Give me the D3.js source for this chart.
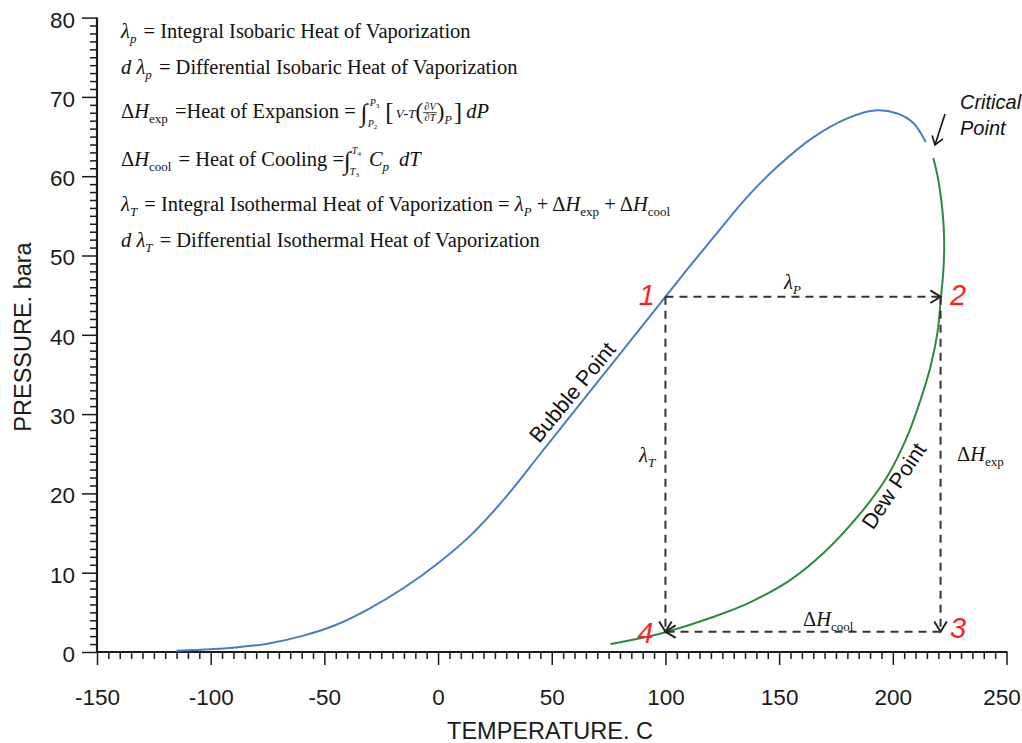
<!DOCTYPE html>
<html><head><meta charset="utf-8">
<script src="https://cdn.jsdelivr.net/npm/d3@7"></script>
<style>body{margin:0;background:#fff} svg{display:block} text{white-space:pre}</style>
</head><body><svg id="c" width="1022" height="743"></svg>
<script>
// ---------------- data ----------------
const bubbleT = [-115, -100, -90, -75, -60, -45, -30, -15, 0, 15, 30, 45, 60, 75, 90, 100, 110, 122, 136, 150, 165, 180, 192, 202, 209, 214.5];
const bubbleP = [0.15, 0.35, 0.55, 1.05, 2.0, 3.4, 5.5, 8.1, 11.2, 14.9, 19.6, 25.0, 30.4, 35.8, 41.2, 44.8, 48.4, 52.6, 57.4, 61.4, 64.9, 67.3, 68.3, 67.9, 66.7, 64.3];
const dewT = [75.8, 91.9, 100.7, 121.3, 136, 155, 170, 185.8, 197.5, 206.3, 212.2, 216.6, 219.6, 221.2, 222.2, 222.6, 222.3, 221.3, 219.7, 217.8];
const dewP = [1.0, 1.93, 2.56, 4.45, 6.1, 9.1, 12.6, 17.5, 22.1, 27.15, 31.8, 36.0, 40.2, 44.8, 48.0, 51.0, 54.0, 57.0, 60.0, 62.3];
const xTicks = [-150, -100, -50, 0, 50, 100, 150, 200, 250];
const yTicks = [0, 10, 20, 30, 40, 50, 60, 70, 80];
const stateNames = ["1", "2", "3", "4"];
const stateT = [100, 221, 221, 100];
const stateP = [44.8, 44.8, 2.56, 2.56];
const xTitle = "TEMPERATURE. C";
const yTitle = "PRESSURE. bara";
const curveNames = ["Bubble Point", "Dew Point"];
const criticalLabel = ["Critical", "Point"];

// ---------------- setup ----------------
const svg = d3.select("#c");
const x = d3.scaleLinear().domain([-150, 250]).range([97, 1006.5]);
const y = d3.scaleLinear().domain([0, 80]).range([652, 17.6]);
const SANS = "'Liberation Sans', Arial, sans-serif";
const SERIF = "'Liberation Serif', 'Times New Roman', serif";
const INK = "#1a1a1a";

// x axis
const gx = svg.append("g").attr("transform", `translate(0,${y(0)})`)
  .call(d3.axisBottom(x).tickValues(d3.range(-150, 251, 5)).tickSize(7).tickFormat(""));
gx.selectAll(".tick line").attr("stroke", INK).attr("stroke-width", 1.5)
  .filter(d => d % 50 === 0).attr("y2", 13);
gx.select(".domain").remove();
gx.selectAll(".tick").filter(d => xTicks.includes(d)).append("text")
  .attr("y", 53).attr("fill", INK).attr("text-anchor", "middle")
  .attr("x", d => d === xTicks[xTicks.length - 1] ? -5 : 0)
  .style("font", `22.5px ${SANS}`).text(d => d);
svg.append("line").attr("x1", x(-150) - 1).attr("x2", x(250) + 1).attr("y1", y(0)).attr("y2", y(0))
  .attr("stroke", INK).attr("stroke-width", 2.2);

// y axis
const gy = svg.append("g").attr("transform", `translate(${x(-150)},0)`)
  .call(d3.axisLeft(y).tickValues(d3.range(0, 81, 1)).tickSize(7).tickFormat(""));
gy.selectAll(".tick line").attr("stroke", INK).attr("stroke-width", 1.5)
  .filter(d => d % 10 === 0).attr("x2", -15);
gy.select(".domain").remove();
gy.selectAll(".tick").filter(d => yTicks.includes(d)).append("text")
  .attr("x", -22).attr("dy", "0.42em").attr("fill", INK).attr("text-anchor", "end")
  .style("font", `22.5px ${SANS}`).text(d => d);
svg.append("line").attr("x1", x(-150)).attr("x2", x(-150)).attr("y1", y(80)).attr("y2", y(0) + 1)
  .attr("stroke", INK).attr("stroke-width", 2.2);

svg.append("text").attr("x", 550).attr("y", 739).attr("text-anchor", "middle")
  .style("font", `23.5px ${SANS}`).attr("fill", INK).text(xTitle);
svg.append("text").attr("transform", "translate(31,337) rotate(-90)").attr("text-anchor", "middle")
  .style("font", `23.5px ${SANS}`).attr("fill", INK).text(yTitle);

// curves
const line = d3.line().x(d => x(d[0])).y(d => y(d[1])).curve(d3.curveCatmullRom.alpha(0.5));
svg.append("path").datum(bubbleT.map((t, i) => [t, bubbleP[i]])).attr("d", line)
  .attr("fill", "none").attr("stroke", "#4a7cc6").attr("stroke-width", 2);
svg.append("path").datum(dewT.map((t, i) => [t, dewP[i]])).attr("d", line)
  .attr("fill", "none").attr("stroke", "#2c8a3f").attr("stroke-width", 2);

// curve labels
svg.append("text").attr("transform", "translate(578,397) rotate(-50.5)").attr("text-anchor", "middle")
  .style("font", `21.5px ${SANS}`).attr("fill", "#111").text(curveNames[0]);
svg.append("text").attr("transform", "translate(900,490) rotate(-56.5)").attr("text-anchor", "middle")
  .style("font", `21.5px ${SANS}`).attr("fill", "#111").text(curveNames[1]);

// dashed process path with arrows
const DASH = "#333";
const segs = [[0, 1], [1, 2], [2, 3], [0, 3]];
segs.forEach(([a, b]) => {
  const x1 = x(stateT[a]), y1 = y(stateP[a]), x2 = x(stateT[b]), y2 = y(stateP[b]);
  svg.append("line").attr("x1", x1).attr("y1", y1).attr("x2", x2).attr("y2", y2)
    .attr("stroke", DASH).attr("stroke-width", 2).attr("stroke-dasharray", "8,6");
  const ang = Math.atan2(y2 - y1, x2 - x1), L = 12, w = 0.55;
  const p1 = [x2 - L * Math.cos(ang - w), y2 - L * Math.sin(ang - w)];
  const p2 = [x2 - L * Math.cos(ang + w), y2 - L * Math.sin(ang + w)];
  svg.append("path").attr("d", `M${p1}L${x2},${y2}L${p2}`).attr("fill", "none")
    .attr("stroke", "#222").attr("stroke-width", 2);
});
const stateOff = [[-18.5, 8], [17.5, 8], [17.5, 6.5], [-20, 11.5]];
stateNames.forEach((s, i) => {
  svg.append("text").attr("x", x(stateT[i]) + stateOff[i][0]).attr("y", y(stateP[i]) + stateOff[i][1])
    .attr("text-anchor", "middle").style("font", `italic 29px ${SANS}`).attr("fill", "#ff1f1f").text(s);
});

// critical point
svg.append("text").attr("x", 960).attr("y", 109).style("font", `italic 20px ${SANS}`).attr("fill", "#111").text(criticalLabel[0]);
svg.append("text").attr("x", 960).attr("y", 135).style("font", `italic 20px ${SANS}`).attr("fill", "#111").text(criticalLabel[1]);
(function () {
  const x1 = 945, y1 = 114, x2 = 935, y2 = 145;
  svg.append("line").attr("x1", x1).attr("y1", y1).attr("x2", x2).attr("y2", y2).attr("stroke", "#111").attr("stroke-width", 1.6);
  const ang = Math.atan2(y2 - y1, x2 - x1), L = 10, w = 0.6;
  svg.append("path").attr("d", `M${x2 - L * Math.cos(ang - w)},${y2 - L * Math.sin(ang - w)}L${x2},${y2}L${x2 - L * Math.cos(ang + w)},${y2 - L * Math.sin(ang + w)}`)
    .attr("fill", "none").attr("stroke", "#111").attr("stroke-width", 1.6);
})();

// ---------------- typesetting helper ----------------
const FS = 20.5;
function drawParts(g, x0, y0, parts) {
  let cx = x0;
  parts.forEach(q => {
    cx += q.gap || 0;
    const t = g.append("text").attr("x", cx).attr("y", y0 + (q.dy || 0))
      .style("font-family", SERIF).style("font-size", (q.fs || FS) + "px")
      .style("font-style", q.it ? "italic" : "normal").attr("fill", q.col || "#111").text(q.t);
    cx += t.node().getComputedTextLength() + (q.after || 0);
  });
  return cx - x0;
}
function typeset(g, x0, y0, pieces) {
  let cx = x0;
  pieces.forEach(p => {
    cx += p.gap || 0;
    if (p.lim) {
      const w1 = drawParts(g, cx + (p.ux || 0), y0 + p.uy, p.lim[0]);
      const w2 = drawParts(g, cx + (p.lx || 0), y0 + p.ly, p.lim[1]);
      cx += Math.max(w1 + (p.ux || 0), w2 + (p.lx || 0));
    } else if (p.frac) {
      const fs = p.fs || 10;
      const a = g.append("text").attr("y", y0 - 8).style("font-family", SERIF).style("font-size", fs + "px").style("font-style", "italic").attr("fill", "#111").text(p.frac[0]);
      const b = g.append("text").attr("y", y0 + 3).style("font-family", SERIF).style("font-size", fs + "px").style("font-style", "italic").attr("fill", "#111").text(p.frac[1]);
      const wa = a.node().getComputedTextLength(), wb = b.node().getComputedTextLength(), w = Math.max(wa, wb) + 2;
      a.attr("x", cx + (w - wa) / 2); b.attr("x", cx + (w - wb) / 2);
      g.append("line").attr("x1", cx).attr("x2", cx + w).attr("y1", y0 - 5.5).attr("y2", y0 - 5.5).attr("stroke", "#111").attr("stroke-width", 0.7);
      cx += w;
    } else {
      cx += drawParts(g, cx, y0, [p]);
    }
  });
  return cx;
}

const fg = svg.append("g");
const sub = (t, extra) => Object.assign({ t, it: true, fs: 13, dy: 5 }, extra || {});
typeset(fg, 121, 38, [{ t: "λ", it: true }, sub("p"), { t: " = Integral Isobaric Heat of Vaporization", gap: 1 }]);
typeset(fg, 121, 74, [{ t: "d", it: true }, { t: " λ", it: true }, sub("p"), { t: " = Differential Isobaric Heat of Vaporization", gap: 1 }]);
typeset(fg, 121, 118, [{ t: "Δ" }, { t: "H", it: true }, sub("exp", { it: false }), { t: " =Heat of Expansion = ", gap: 1 },
  { t: "∫", fs: 25, dy: 3 },
  { lim: [[{ t: "P", it: true, fs: 10 }, { t: "3", fs: 7, dy: 2 }], [{ t: "P", it: true, fs: 10 }, { t: "2", fs: 7, dy: 2 }]], uy: -12, ly: 9, ux: 2, lx: 0 },
  { t: "[", fs: 25, dy: 2, gap: 3 }, { t: "V", it: true, fs: 13, gap: 1 }, { t: "-", fs: 14 }, { t: "T", it: true, fs: 13 },
  { t: "(", fs: 23, dy: 1 }, { frac: ["∂V", "∂T"], fs: 10.5 }, { t: ")", fs: 23, dy: 1 }, { t: "P", it: true, fs: 12, dy: 6 },
  { t: "]", fs: 25, dy: 2, gap: 1 }, { t: "dP", it: true, gap: 2 }]);
typeset(fg, 121, 166, [{ t: "Δ" }, { t: "H", it: true }, sub("cool", { it: false }), { t: " = Heat of Cooling =", gap: 1 },
  { t: "∫", fs: 25, dy: 3 },
  { lim: [[{ t: "T", it: true, fs: 10 }, { t: "4", fs: 7, dy: 2 }], [{ t: "T", it: true, fs: 10 }, { t: "3", fs: 7, dy: 2 }]], uy: -12, ly: 9, ux: 1, lx: -1 },
  { t: "C", it: true, gap: 4 }, sub("p"), { t: "dT", it: true, gap: 5 }]);
typeset(fg, 121, 211, [{ t: "λ", it: true }, sub("T"), { t: " = Integral Isothermal Heat of Vaporization = ", gap: 1 },
  { t: "λ", it: true }, sub("P"), { t: " + Δ" }, { t: "H", it: true }, sub("exp", { it: false }), { t: " + Δ" }, { t: "H", it: true }, sub("cool", { it: false })]);
typeset(fg, 121, 247, [{ t: "d", it: true }, { t: " λ", it: true }, sub("T"), { t: " = Differential Isothermal Heat of Vaporization", gap: 1 }]);

// chart annotations
const ag = svg.append("g");
typeset(ag, 784, 289, [{ t: "λ", it: true }, sub("P")]);
typeset(ag, 639, 462, [{ t: "λ", it: true }, sub("T")]);
typeset(ag, 957, 461, [{ t: "Δ" }, { t: "H", it: true }, sub("exp", { it: false })]);
typeset(ag, 803, 626, [{ t: "Δ" }, { t: "H", it: true }, sub("cool", { it: false })]);
</script>
</body></html>
